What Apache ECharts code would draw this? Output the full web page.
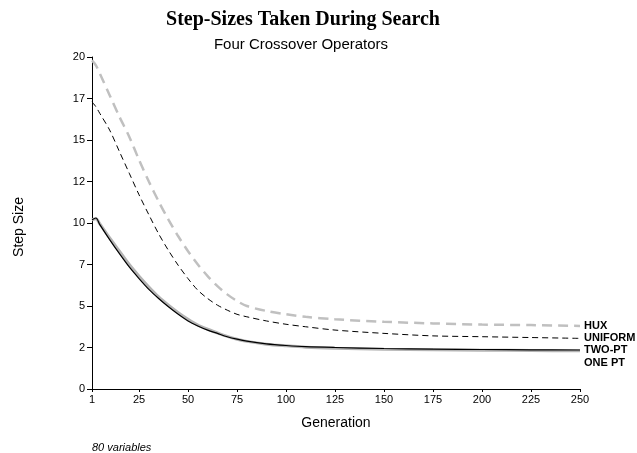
<!DOCTYPE html>
<html>
<head>
<meta charset="utf-8">
<script src="https://cdn.jsdelivr.net/npm/echarts@6/dist/echarts.min.js"></script>
<style>html,body{margin:0;padding:0;background:#fff}#c{width:637px;height:453px}</style>
</head>
<body>
<div id="c"></div>
<script>
const generations = [1,3,5,10,15,20,25,30,35,40,45,50,55,60,65,70,75,80,90,100,110,125,150,175,200,225,250];
const hux     = [19.8,19.5,19.0,17.7,16.4,15.2,13.8,12.5,11.3,10.2,9.2,8.3,7.5,6.8,6.2,5.7,5.3,5.0,4.7,4.5,4.35,4.2,4.05,3.95,3.88,3.85,3.8];
const uniform = [17.3,17.0,16.6,15.6,14.3,13.0,11.7,10.5,9.35,8.35,7.45,6.65,5.95,5.45,5.05,4.75,4.5,4.35,4.1,3.9,3.75,3.55,3.35,3.2,3.15,3.1,3.05];
const twoPt   = [10.2,10.3,9.9,9.0,8.15,7.35,6.65,6.0,5.45,4.95,4.5,4.1,3.8,3.55,3.35,3.15,3.0,2.88,2.72,2.62,2.55,2.5,2.44,2.4,2.38,2.36,2.35];
const onePt   = [10.2,10.25,9.95,9.1,8.3,7.5,6.8,6.15,5.55,5.05,4.6,4.2,3.85,3.6,3.38,3.17,3.0,2.87,2.7,2.6,2.52,2.46,2.4,2.36,2.34,2.32,2.3];
const xTicks = [1,25,50,75,100,125,150,175,200,225,250];

function pairs(ys){ return generations.map((g,i)=>[g, ys[i]]); }

const chart = echarts.init(document.getElementById('c'));
const sans = 'Liberation Sans, Arial, sans-serif';
const endLbl = (name, dy) => ({
  show: true, formatter: name, fontFamily: sans, fontWeight: 'bold', fontSize: 11,
  color: '#000', distance: 4, offset: [0, dy]
});
chart.setOption({
  animation: false,
  backgroundColor: '#fff',
  title: [
    {text: 'Step-Sizes Taken During Search', left: 298, top: 5, textAlign: 'center',
     textStyle: {fontFamily: 'Liberation Serif, Times New Roman, serif', fontWeight: 'bold', fontSize: 20, color: '#000'}},
    {text: 'Four Crossover Operators', left: 296, top: 32, textAlign: 'center',
     textStyle: {fontFamily: sans, fontWeight: 'normal', fontSize: 15, color: '#000'}},
    {text: '80 variables', left: 87, top: 437,
     textStyle: {fontFamily: sans, fontStyle: 'italic', fontWeight: 'normal', fontSize: 11, color: '#000'}}
  ],
  grid: {left: 92, right: 57, top: 57, bottom: 64, containLabel: false, outerBoundsMode: 'none'},
  xAxis: {
    type: 'value', min: 1, max: 250,
    name: 'Generation', nameLocation: 'middle', nameGap: 27,
    nameTextStyle: {fontFamily: sans, fontSize: 14, color: '#000'},
    axisLine: {lineStyle: {color: '#000', width: 1}},
    axisTick: {show: true, length: 3, customValues: xTicks, lineStyle: {color: '#000'}},
    axisLabel: {customValues: xTicks, fontFamily: sans, fontSize: 11, color: '#000', margin: 5},
    splitLine: {show: false}
  },
  yAxis: {
    type: 'value', min: 0, max: 20, interval: 2.5,
    name: 'Step Size', nameLocation: 'middle', nameGap: 66, nameRotate: 90,
    nameTextStyle: {fontFamily: sans, fontSize: 14, color: '#000', padding: [0, 8, 0, 0]},
    axisLine: {show: true, lineStyle: {color: '#000', width: 1}},
    axisTick: {show: true, length: 5, lineStyle: {color: '#000'}},
    axisLabel: {formatter: v => String(Math.floor(v)), fontFamily: sans, fontSize: 11, color: '#000', margin: 7},
    splitLine: {show: false}
  },
  series: [
    {name: 'HUX', type: 'line', data: pairs(hux), showSymbol: false, smooth: 0.3,
     lineStyle: {color: '#c0c0c0', width: 2.5, type: [10, 6]}, endLabel: endLbl('HUX', 0)},
    {name: 'UNIFORM', type: 'line', data: pairs(uniform), showSymbol: false, smooth: 0.3,
     lineStyle: {color: '#000', width: 1, type: [6, 4]}, endLabel: endLbl('UNIFORM', 0)},
    {name: 'ONE PT', type: 'line', data: pairs(onePt), showSymbol: false, smooth: 0.3,
     lineStyle: {color: '#b4b4b4', width: 3}, endLabel: endLbl('ONE PT', 12)},
    {name: 'TWO-PT', type: 'line', data: pairs(twoPt), showSymbol: false, smooth: 0.3,
     lineStyle: {color: '#000', width: 1.2}, endLabel: endLbl('TWO-PT', 0)}
  ]
});
</script>
</body>
</html>
